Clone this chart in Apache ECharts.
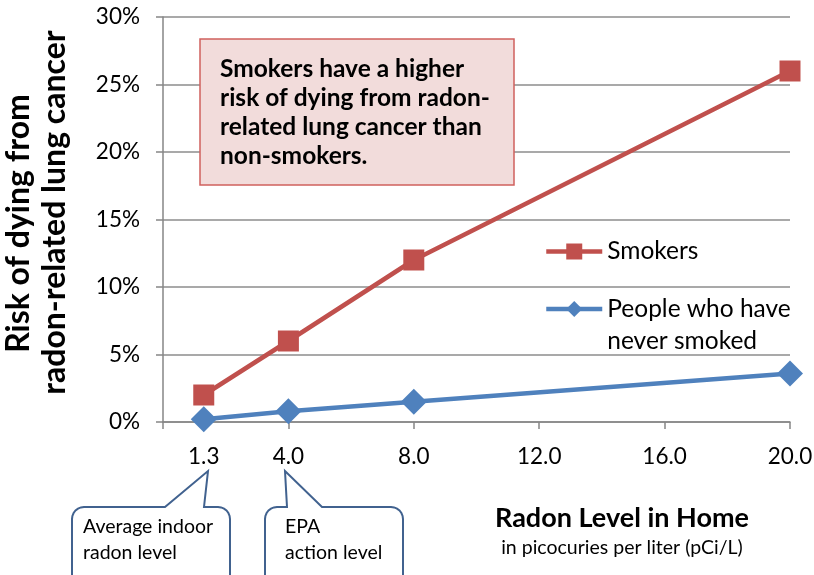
<!DOCTYPE html>
<html><head><meta charset="utf-8">
<script src="https://cdn.jsdelivr.net/npm/echarts@6/dist/echarts.min.js"></script>
<style>html,body{margin:0;padding:0;background:#fff}#c{width:814px;height:575px}</style>
</head><body><div id="c"></div>
<script>
const radonLevels = [1.3, 4.0, 8.0, 20.0];
const smokers = [2.0, 6.0, 12.0, 26.0];
const neverSmoked = [0.2, 0.8, 1.5, 3.6];
const xLabelValues = [1.3, 4, 8, 12, 16, 20];
const xTickValues = [0, 4, 8, 12, 16, 20];
const seriesNames = ['Smokers', 'People who have\nnever smoked'];

const FONT = 'Lato, "Open Sans", sans-serif';

function calloutPoints(x0, x1, y0, y1, r, bl, tip, br) {
  const pts = [];
  const arc = (cx, cy, a0, a1) => { for (let k = 0; k <= 6; k++) { const a = a0 + (a1 - a0) * k / 6; pts.push([cx + r * Math.cos(a), cy + r * Math.sin(a)]); } };
  arc(x0 + r, y0 + r, Math.PI, Math.PI * 1.5);
  pts.push([bl, y0], tip, [br, y0]);
  arc(x1 - r, y0 + r, Math.PI * 1.5, Math.PI * 2);
  pts.push([x1, y1], [x0, y1]);
  return pts;
}

const nameStyle = {fontSize: 32, fontWeight: 'bold', fontFamily: FONT, color: '#000', lineHeight: 36};
const chart = echarts.init(document.getElementById('c'), null, {renderer: 'canvas'});
chart.setOption({
  animation: false,
  grid: {left: 163, right: 24, top: 17, bottom: 153, containLabel: false, outerBoundsMode: 'none'},
  xAxis: {
    type: 'value', min: 0, max: 20, interval: 4,
    axisLine: {show: true, lineStyle: {color: '#868686', width: 1.5}},
    axisTick: {show: true, length: 7, inside: false, customValues: xTickValues, lineStyle: {color: '#868686', width: 1.5}},
    splitLine: {show: false},
    axisLabel: {customValues: xLabelValues, formatter: v => Number(v).toFixed(1), color: '#000', fontSize: 22.5, fontFamily: FONT, margin: 23}
  },
  yAxis: {
    type: 'value', min: 0, max: 30, interval: 5,
    axisLine: {show: true, lineStyle: {color: '#868686', width: 1.5}},
    axisTick: {show: true, length: 7, lineStyle: {color: '#868686', width: 1.5}},
    splitLine: {show: true, lineStyle: {color: '#8c8c8c', width: 1.5}},
    axisLabel: {formatter: '{value}%', color: '#000', fontSize: 22.5, fontFamily: FONT, margin: 23},
    name: '{a|Risk of dying from}\n{b|radon-related lung cancer}',
    nameLocation: 'middle', nameGap: 90, nameRotate: 90, nameMoveOverlap: false,
    nameTextStyle: Object.assign({padding: [0,0,0,14], rich: {
      a: Object.assign({padding: [0, 22, 0, 0]}, nameStyle),
      b: Object.assign({}, nameStyle)}}, nameStyle)
  },
  legend: [
    {data: [seriesNames[0]], left: 544, top: 239, padding: 0, itemWidth: 56, itemHeight: 20,
     lineStyle: {width: 4.5}, textStyle: {fontSize: 24.5, fontFamily: FONT, color: '#000'}},
    {data: [seriesNames[1]], left: 544, top: 261, padding: 0, itemWidth: 56, itemHeight: 20,
     formatter: n => '\n' + n, lineStyle: {width: 4.5},
     textStyle: {fontSize: 24.5, fontFamily: FONT, color: '#000', lineHeight: 32}}
  ],
  series: [
    {name: seriesNames[0], type: 'line', data: radonLevels.map((x,i)=>[x, smokers[i]]),
     lineStyle: {color: '#c0504d', width: 4.5}, itemStyle: {color: '#c0504d'},
     symbol: 'rect', symbolSize: 21, showAllSymbol: true, z: 3},
    {name: seriesNames[1], type: 'line', data: radonLevels.map((x,i)=>[x, neverSmoked[i]]),
     lineStyle: {color: '#4f81bd', width: 4.5}, itemStyle: {color: '#4f81bd'},
     symbol: 'diamond', symbolSize: 26, showAllSymbol: true, z: 3}
  ],
  graphic: [
    {type: 'rect', shape: {x: 200, y: 39, width: 314, height: 146},
     style: {fill: '#f2dcdb', stroke: '#d0605e', lineWidth: 1.5}, z: 10},
    {type: 'text', z: 11,
     style: {x: 220, y: 55, text: 'Smokers have a higher\nrisk of dying from radon-\nrelated lung cancer than\nnon-smokers.',
       fontSize: 24.5, fontWeight: 'bold', fontFamily: FONT, fill: '#000', lineHeight: 29}},
    {type: 'text', z: 11, style: {x: 622, y: 518, text: 'Radon Level in Home', fontSize: 27, fontWeight: 'bold', fontFamily: FONT, fill: '#000', align: 'center', verticalAlign: 'middle'}},
    {type: 'text', z: 11, style: {x: 622, y: 548, text: 'in picocuries per liter (pCi/L)', fontSize: 19.5, fontFamily: FONT, fill: '#000', align: 'center', verticalAlign: 'middle'}},
    {type: 'polygon', z: 10, shape: {points: calloutPoints(72, 230, 507, 595, 12, 165, [208, 471], 204)},
     style: {fill: '#fff', stroke: '#41628f', lineWidth: 2}},
    {type: 'text', z: 11, style: {x: 83, y: 514, text: 'Average indoor\nradon level', fontSize: 19.5, fontFamily: FONT, fill: '#000', lineHeight: 26}},
    {type: 'polygon', z: 10, shape: {points: calloutPoints(265, 403, 507, 595, 12, 287, [285, 471], 322)},
     style: {fill: '#fff', stroke: '#41628f', lineWidth: 2}},
    {type: 'text', z: 11, style: {x: 285, y: 514, text: 'EPA\naction level', fontSize: 19.5, fontFamily: FONT, fill: '#000', lineHeight: 26}}
  ]
});
</script></body></html>
